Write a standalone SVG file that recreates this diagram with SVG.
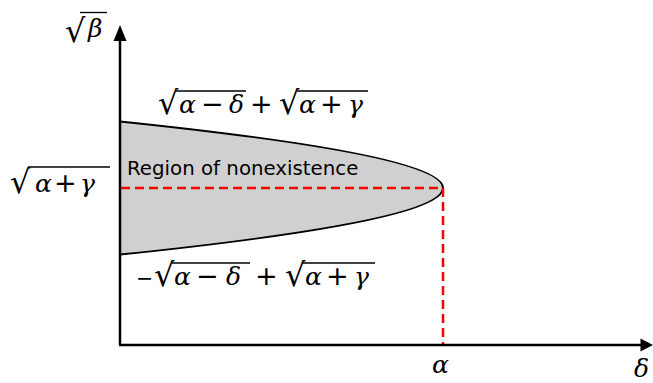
<svg xmlns="http://www.w3.org/2000/svg" width="653" height="383" viewBox="0 0 653 383">
<style>
text{font-family:"DejaVu Sans",sans-serif;fill:#000}
.m{font-family:"DejaVu Serif",serif;font-style:italic;font-size:25px}
.o{font-family:"DejaVu Sans",sans-serif;font-size:27px}
.r{font-family:"DejaVu Sans",sans-serif;font-size:32px}
.v{stroke:#000;stroke-width:1.3}
.dash{stroke:#ff0000;stroke-width:2.5;stroke-dasharray:9,5;fill:none}
.ax{stroke:#000;stroke-width:2.5;fill:none}
</style>
<g id="region">
<path d="M120,121.5 Q766,188 120,254.5 Z" fill="#d0d0d0" stroke="none"/>
<path d="M120,121.5 Q766,188 120,254.5" fill="none" stroke="#000" stroke-width="2"/>
<text x="127" y="175" font-size="19.8">Region of nonexistence</text>
</g>
<g id="guides">
<path class="dash" d="M121,188 H443 V345"/>
</g>
<g id="axes">
<path class="ax" d="M120,345 V38"/>
<polygon points="120,25 113.5,41 126.5,41"/>
<path class="ax" d="M119,345 H642"/>
<polygon points="653,345 640.5,338.5 640.5,351.5"/>
</g>
<g id="label-sqrt-beta">
<line class="v" x1="80" y1="12.5" x2="107" y2="12.5"/>
<text><tspan class="r" x="65" y="42">√</tspan><tspan class="m" x="88" y="37">β</tspan></text>
</g>
<g id="label-upper">
<line class="v" x1="176" y1="91" x2="246" y2="91"/>
<line class="v" x1="297" y1="91" x2="368" y2="91"/>
<text><tspan class="r" x="158" y="114">√</tspan><tspan class="m" x="179" y="113">α</tspan><tspan class="o" x="201" y="113">−</tspan><tspan class="m" x="229" y="113">δ</tspan><tspan class="o" x="250" y="113">+</tspan><tspan class="r" x="279" y="114">√</tspan><tspan class="m" x="299" y="113">α</tspan><tspan class="o" x="320" y="113">+</tspan><tspan class="m" x="348" y="113">γ</tspan></text>
</g>
<g id="label-left">
<line class="v" x1="28" y1="167" x2="110" y2="167"/>
<text><tspan class="r" x="10" y="193">√</tspan><tspan class="m" x="35" y="192">α</tspan><tspan class="o" x="54" y="192">+</tspan><tspan class="m" x="80" y="192">γ</tspan></text>
</g>
<g id="label-lower">
<line class="v" x1="172" y1="263" x2="250" y2="263"/>
<line class="v" x1="302" y1="263" x2="375" y2="263"/>
<text><tspan x="136" y="285" font-size="20.5">−</tspan><tspan class="r" x="154" y="286">√</tspan><tspan class="m" x="174" y="285">α</tspan><tspan class="o" x="196" y="285">−</tspan><tspan class="m" x="226" y="285">δ</tspan><tspan class="o" x="255" y="285">+</tspan><tspan class="r" x="285" y="286">√</tspan><tspan class="m" x="305" y="285">α</tspan><tspan class="o" x="326" y="285">+</tspan><tspan class="m" x="354" y="285">γ</tspan></text>
</g>
<g id="label-alpha">
<text class="m" x="432" y="373">α</text>
</g>
<g id="label-delta">
<text class="m" x="634" y="377" font-size="28">δ</text>
</g>
</svg>
